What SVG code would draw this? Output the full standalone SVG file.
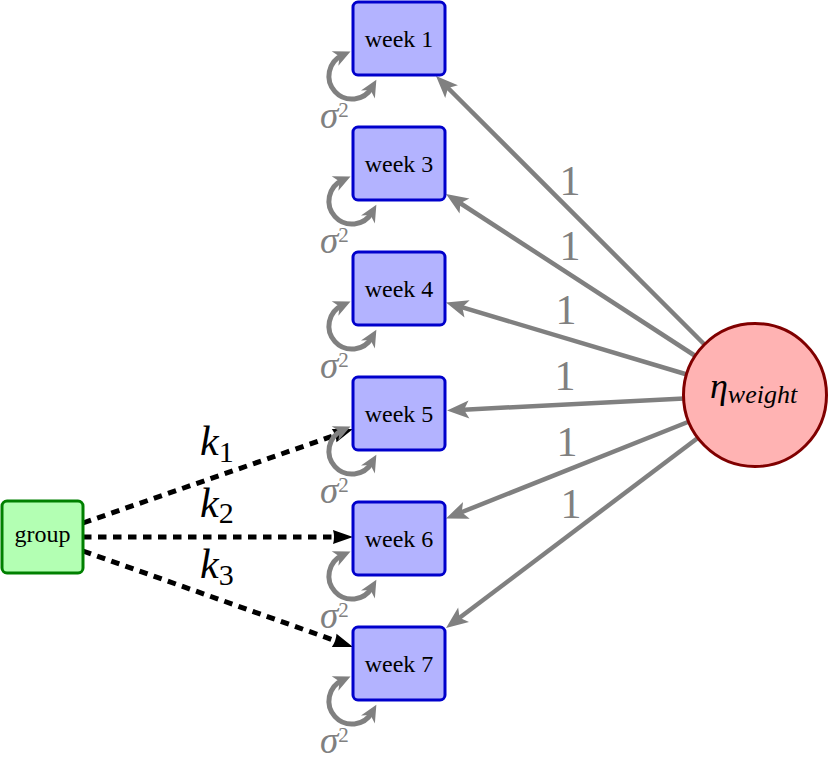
<svg xmlns="http://www.w3.org/2000/svg" width="830" height="764" viewBox="0 0 830 764">
<style>
.wk rect{fill:#b3b3ff;stroke:#0000cc;stroke-width:3}
.lbl{font-family:"Liberation Serif",serif;font-size:24px;fill:#000;text-anchor:middle}
.gl{stroke:#808080;stroke-width:4.5;fill:none}
.dl{stroke:#000;stroke-width:5;fill:none;stroke-dasharray:8.5 6.5}
.lp{stroke:#808080;stroke-width:5;fill:none}
.one{font-family:"Liberation Serif",serif;font-size:42px;fill:#808080;text-anchor:middle}
.sg{font-family:"Liberation Serif",serif;fill:#808080;text-anchor:start}
.k{font-family:"Liberation Serif",serif;fill:#000}
</style>
<defs>
<marker id="ag" viewBox="-23 -10 25 20" markerWidth="25" markerHeight="20" refX="-12" refY="0" orient="auto" markerUnits="userSpaceOnUse">
<path d="M0,0 L-22,-9 L-17,0 L-22,9 Z" fill="#808080"/>
</marker>
<marker id="ab" viewBox="-22 -9 24 18" markerWidth="24" markerHeight="18" refX="-12" refY="0" orient="auto" markerUnits="userSpaceOnUse">
<path d="M0,0 L-20,-7 Q-18,0 -20,7 Z" fill="#000"/>
</marker>
<marker id="al" viewBox="-19 -10 21 20" markerWidth="21" markerHeight="20" refX="-9" refY="0" orient="auto-start-reverse" markerUnits="userSpaceOnUse">
<path d="M0,0 L-17,-8 L-12,0 L-17,8 Z" fill="#808080"/>
</marker>
</defs>

<g id="connectors">
<line class="gl" x1="705" y1="345" x2="444.5" y2="84.5" marker-end="url(#ag)"/>
<line class="gl" x1="695.4" y1="356" x2="456.1" y2="200.5" marker-end="url(#ag)"/>
<line class="gl" x1="686.9" y1="374.5" x2="457.5" y2="305.9" marker-end="url(#ag)"/>
<line class="gl" x1="684" y1="398.5" x2="459" y2="409.9" marker-end="url(#ag)"/>
<line class="gl" x1="689.2" y1="421.5" x2="457.1" y2="514" marker-end="url(#ag)"/>
<line class="gl" x1="698.4" y1="437.5" x2="455.6" y2="620.8" marker-end="url(#ag)"/>

<line class="dl" x1="83" y1="523" x2="341.7" y2="433" marker-end="url(#ab)"/>
<line class="dl" x1="83" y1="537" x2="341" y2="537" marker-end="url(#ab)"/>
<line class="dl" x1="83" y1="551" x2="341.7" y2="643" marker-end="url(#ab)"/>

<path class="lp" d="M342.3,55.2 A23,23 0 1 0 371.9,87.5" marker-start="url(#al)" marker-end="url(#al)"/>
<path class="lp" d="M342.3,180.2 A23,23 0 1 0 371.9,212.5" marker-start="url(#al)" marker-end="url(#al)"/>
<path class="lp" d="M342.3,305.2 A23,23 0 1 0 371.9,337.5" marker-start="url(#al)" marker-end="url(#al)"/>
<path class="lp" d="M342.3,430.2 A23,23 0 1 0 371.9,462.5" marker-start="url(#al)" marker-end="url(#al)"/>
<path class="lp" d="M342.3,555.2 A23,23 0 1 0 371.9,587.5" marker-start="url(#al)" marker-end="url(#al)"/>
<path class="lp" d="M342.3,680.2 A23,23 0 1 0 371.9,712.5" marker-start="url(#al)" marker-end="url(#al)"/>

<text class="one" x="570" y="195">1</text>
<text class="one" x="570" y="260">1</text>
<text class="one" x="566" y="324">1</text>
<text class="one" x="565" y="390">1</text>
<text class="one" x="567" y="456">1</text>
<text class="one" x="571" y="518">1</text>

<text class="k" x="200" y="455"><tspan font-style="italic" font-size="42">k</tspan><tspan font-size="30" dy="7">1</tspan></text>
<text class="k" x="200" y="517"><tspan font-style="italic" font-size="42">k</tspan><tspan font-size="30" dy="6">2</tspan></text>
<text class="k" x="200" y="578"><tspan font-style="italic" font-size="42">k</tspan><tspan font-size="30" dy="7">3</tspan></text>
</g>

<g id="week1" class="wk"><rect x="353" y="2" width="92" height="73" rx="5"/><text class="lbl" x="399" y="47">week 1</text>
<text class="sg" x="320" y="128"><tspan font-style="italic" font-size="37">σ</tspan><tspan font-size="21" dy="-11">2</tspan></text></g>
<g id="week3" class="wk"><rect x="353" y="127" width="92" height="73" rx="5"/><text class="lbl" x="399" y="172">week 3</text>
<text class="sg" x="320" y="253"><tspan font-style="italic" font-size="37">σ</tspan><tspan font-size="21" dy="-11">2</tspan></text></g>
<g id="week4" class="wk"><rect x="353" y="252" width="92" height="73" rx="5"/><text class="lbl" x="399" y="297">week 4</text>
<text class="sg" x="320" y="378"><tspan font-style="italic" font-size="37">σ</tspan><tspan font-size="21" dy="-11">2</tspan></text></g>
<g id="week5" class="wk"><rect x="353" y="377" width="92" height="73" rx="5"/><text class="lbl" x="399" y="422">week 5</text>
<text class="sg" x="320" y="503"><tspan font-style="italic" font-size="37">σ</tspan><tspan font-size="21" dy="-11">2</tspan></text></g>
<g id="week6" class="wk"><rect x="353" y="502" width="92" height="73" rx="5"/><text class="lbl" x="399" y="547">week 6</text>
<text class="sg" x="320" y="628"><tspan font-style="italic" font-size="37">σ</tspan><tspan font-size="21" dy="-11">2</tspan></text></g>
<g id="week7" class="wk"><rect x="353" y="627" width="92" height="73" rx="5"/><text class="lbl" x="399" y="672">week 7</text>
<text class="sg" x="320" y="753"><tspan font-style="italic" font-size="37">σ</tspan><tspan font-size="21" dy="-11">2</tspan></text></g>

<g id="group"><rect x="2" y="501" width="81" height="72" rx="5" fill="#b3ffb3" stroke="#008000" stroke-width="3"/>
<text class="lbl" x="42.5" y="542">group</text></g>

<g id="eta"><circle cx="755" cy="395" r="71.5" fill="#ffb3b3" stroke="#800000" stroke-width="3"/>
<text x="710" y="398" font-family="Liberation Serif, serif" font-style="italic" fill="#000"><tspan font-size="36">η</tspan><tspan font-size="26" dy="5">weight</tspan></text></g>
</svg>
